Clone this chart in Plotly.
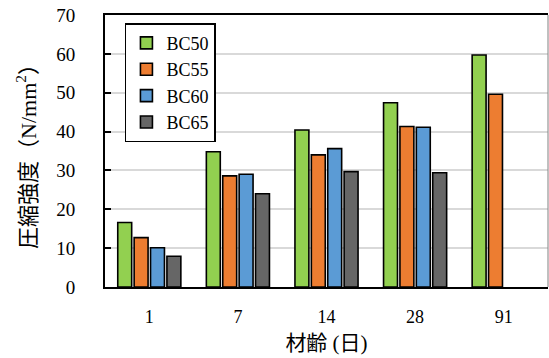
import plotly.graph_objects as go

# Compressive strength by age for each mix
ages = ["1", "7", "14", "28", "91"]
series_names = ["BC50", "BC55", "BC60", "BC65"]
bc50 = [16.6, 34.8, 40.4, 47.4, 59.7]
bc55 = [12.7, 28.6, 34.0, 41.3, 49.6]
bc60 = [10.1, 29.0, 35.6, 41.1, None]
bc65 = [7.9, 24.0, 29.7, 29.4, None]
y_ticks = [0, 10, 20, 30, 40, 50, 60, 70]

colors = ["#92D050", "#ED7D31", "#5B9BD5", "#666666"]
values = [bc50, bc55, bc60, bc65]

serif = "Liberation Serif, Times New Roman, serif"
mixed = "Liberation Serif, Noto Sans CJK JP, serif"

fig = go.Figure()
for name, vals, col in zip(series_names, values, colors):
    fig.add_trace(go.Bar(
        x=ages, y=vals, name=name,
        marker=dict(color=col, line=dict(color="black", width=1.6)),
    ))

fig.update_layout(
    width=549, height=358,
    margin=dict(l=105, r=1, t=15, b=71),
    paper_bgcolor="white", plot_bgcolor="white",
    barmode="group", bargap=0.26, bargroupgap=0.15,
    font=dict(family=serif, size=18, color="black"),
    legend=dict(
        x=0.045, y=0.97, xanchor="left", yanchor="top",
        bgcolor="white", bordercolor="black", borderwidth=1.5,
        font=dict(family=serif, size=18, color="black"),
        itemwidth=30, entrywidth=62,
    ),
    xaxis=dict(
        type="category",
        showline=True, linecolor="black", linewidth=2, mirror=True,
        showgrid=False, ticks="", ticklabelstandoff=12,
        tickfont=dict(family=serif, size=18),
        title=dict(text="材齢 (日)", font=dict(family=mixed, size=21), standoff=10),
    ),
    yaxis=dict(
        range=[0, 70], tickvals=y_ticks,
        showline=True, linecolor="black", linewidth=2,
        showgrid=True, gridcolor="#D9D9D9", gridwidth=1.5,
        ticks="inside", ticklen=6, tickwidth=2, tickcolor="black",
        ticklabelstandoff=24,
        tickfont=dict(family=serif, size=19),
        zeroline=False,
        title=dict(text="圧縮強度（N/mm<sup>2</sup>）", font=dict(family=mixed, size=22), standoff=14),
    ),
    shapes=[dict(type="line", xref="paper", yref="paper", x0=1, x1=1, y0=0, y1=1,
                 line=dict(color="#808080", width=1))],
)

fig.write_html("out.html")
